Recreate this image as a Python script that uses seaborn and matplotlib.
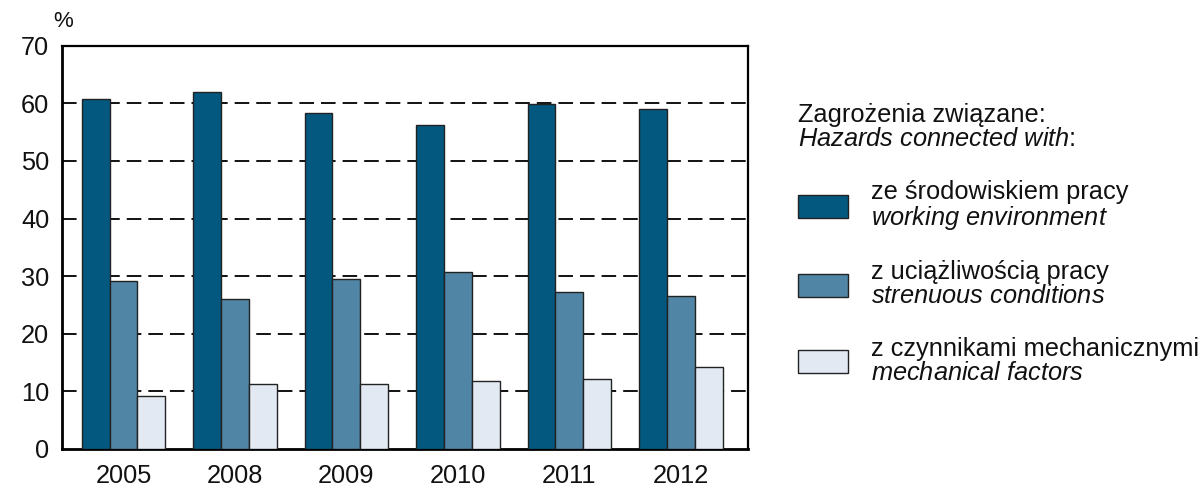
import matplotlib
matplotlib.use("Agg")
import matplotlib.pyplot as plt
import seaborn as sns
import pandas as pd

years = ["2005", "2008", "2009", "2010", "2011", "2012"]
working_env = [60.7, 61.9, 58.4, 56.3, 59.8, 59.0]
strenuous = [29.1, 26.0, 29.5, 30.8, 27.3, 26.6]
mechanical = [9.2, 11.3, 11.3, 11.8, 12.2, 14.2]

series_pl = ["ze środowiskiem pracy", "z uciążliwością pracy", "z czynnikami mechanicznymi"]
series_en = ["working environment", "strenuous conditions", "mechanical factors"]
colors = ["#02587F", "#5085A5", "#E2E9F3"]

sns.set_theme(style="white")
plt.rcParams["font.family"] = ["Liberation Sans", "DejaVu Sans"]
plt.rcParams["mathtext.fontset"] = "custom"
plt.rcParams["mathtext.rm"] = "Liberation Sans"
plt.rcParams["mathtext.it"] = "Liberation Sans:italic"

rows = []
for vals, name in zip([working_env, strenuous, mechanical], series_pl):
    for y, v in zip(years, vals):
        rows.append({"year": y, "value": v, "series": name})
df = pd.DataFrame(rows)

fig = plt.figure(figsize=(12.02, 4.92), dpi=100)
ax = fig.add_axes([0.0513, 0.0874, 0.5707, 0.8197])

sns.barplot(data=df, x="year", y="value", hue="series", order=years,
            hue_order=series_pl, palette=colors, width=0.75, gap=0,
            edgecolor="#222222", linewidth=1.0, saturation=1, ax=ax,
            zorder=3)

ax.set_ylim(0, 70)
ax.set_xlim(-0.555, 5.6)
ax.set_yticks(range(0, 71, 10))
ax.set_xlabel("")
ax.set_ylabel("")

for y in range(10, 70, 10):
    ax.axhline(y, color="#111111", lw=1.4, linestyle=(0, (7.5, 3.6)), zorder=1)

for side in ["left", "bottom"]:
    ax.spines[side].set_linewidth(2.0)
for side in ["top", "right"]:
    ax.spines[side].set_linewidth(1.6)
for s in ax.spines.values():
    s.set_color("black")
    s.set_visible(True)

FS = 18.3
ax.tick_params(axis="y", direction="inout", length=16, width=1.4, color="black",
               labelsize=FS, pad=1)
ax.tick_params(axis="x", length=0, labelsize=FS, pad=11)
for t in ax.get_yticklabels() + ax.get_xticklabels():
    t.set_color("#111111")

ax.annotate("%", xy=(0, 1), xycoords="axes fraction", xytext=(1, 10),
            textcoords="offset points", ha="center", va="bottom", fontsize=16,
            color="#111111")

def it(s):
    return "$\\mathit{" + s.replace(" ", "\\ ") + "}$"

handles = ax.get_legend_handles_labels()[0]
labels = [pl + "\n" + it(en) for pl, en in zip(series_pl, series_en)]
if ax.legend_:
    ax.legend_.remove()
leg = ax.legend(handles, labels,
                title="Zagrożenia związane:\n" + it("Hazards connected with") + ":",
                loc="upper left", bbox_to_anchor=(1.0584, 0.882), frameon=False,
                fontsize=FS, title_fontsize=FS, alignment="left",
                handlelength=1.97, handleheight=1.0, handletextpad=0.9,
                labelspacing=1.12, borderaxespad=0)
for t in leg.get_texts():
    t.set_linespacing(1.0)
    t.set_color("#111111")
leg.get_title().set_linespacing(1.0)
leg.get_title().set_color("#111111")
for h in leg.legend_handles:
    h.set_edgecolor("#222222")
    h.set_linewidth(1.0)

fig.savefig("out.png", dpi=100)
